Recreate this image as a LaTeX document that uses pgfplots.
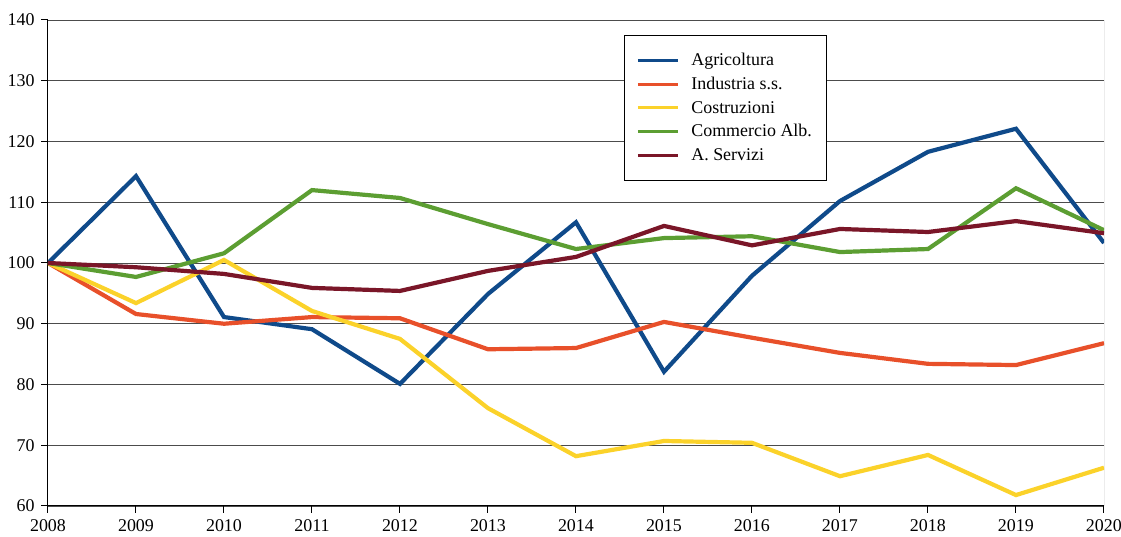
\documentclass[border=0pt]{standalone}
\usepackage{pgfplots}
\pgfplotsset{compat=1.18}
\usepackage{fontspec}
\setmainfont{Liberation Serif}
\definecolor{cAgr}{HTML}{0F4A8A}
\definecolor{cInd}{HTML}{E8502A}
\definecolor{cCos}{HTML}{FBD22A}
\definecolor{cCom}{HTML}{5C9E32}
\definecolor{cSer}{HTML}{7A1628}
\begin{document}
\begin{tikzpicture}[x=1bp,y=1bp]
\begin{axis}[
  width=1056bp, height=486bp, scale only axis,
  xmin=2008, xmax=2020, ymin=60, ymax=140,
  xtick={2008,...,2020}, ytick={60,70,...,140},
  xticklabel style={/pgf/number format/1000 sep={}, yshift=-3bp},
  yticklabel style={xshift=-3bp},
  /pgf/number format/assume math mode=true,
  tick label style={font=\fontsize{18}{20}\selectfont},
  axis x line*=bottom, axis y line*=left,
  axis line style={black, line width=1bp, -},
  tick style={black, line width=1bp},
  tick align=outside, major tick length=7bp,
  ymajorgrids, grid style={black!70, line width=0.8bp},
  legend style={at={(0.5455,0.969)}, anchor=north west, draw=black, line width=0.6bp,
    font=\fontsize{18}{20}\selectfont, row sep=6bp, inner xsep=12bp, inner ysep=16bp,
    /tikz/every odd column/.append style={column sep=10bp}},
  legend cell align=left,
  legend image code/.code={\draw[#1, line width=3bp] (0bp,0bp) -- (40bp,0bp);},
  every axis plot/.append style={line width=4.2bp},
]
\addplot[cAgr] coordinates {(2008,100)(2009,114.3)(2010,91.1)(2011,89.1)(2012,80.1)(2013,94.9)(2014,106.7)(2015,82.1)(2016,97.9)(2017,110.2)(2018,118.3)(2019,122.1)(2020,103.3)};
\addlegendentry{Agricoltura}
\addplot[cInd] coordinates {(2008,100)(2009,91.6)(2010,90.0)(2011,91.1)(2012,90.9)(2013,85.8)(2014,86.0)(2015,90.3)(2016,87.7)(2017,85.2)(2018,83.4)(2019,83.2)(2020,86.8)};
\addlegendentry{Industria s.s.}
\addplot[cCos] coordinates {(2008,100)(2009,93.4)(2010,100.5)(2011,92.1)(2012,87.5)(2013,76.1)(2014,68.2)(2015,70.7)(2016,70.4)(2017,64.9)(2018,68.4)(2019,61.8)(2020,66.3)};
\addlegendentry{Costruzioni}
\addplot[cCom] coordinates {(2008,100)(2009,97.7)(2010,101.6)(2011,112.0)(2012,110.7)(2013,106.4)(2014,102.3)(2015,104.1)(2016,104.4)(2017,101.8)(2018,102.3)(2019,112.3)(2020,105.4)};
\addlegendentry{Commercio Alb.}
\addplot[cSer] coordinates {(2008,100)(2009,99.3)(2010,98.2)(2011,95.9)(2012,95.4)(2013,98.7)(2014,101.0)(2015,106.1)(2016,102.9)(2017,105.6)(2018,105.1)(2019,106.9)(2020,104.9)};
\addlegendentry{A. Servizi}
\draw[black!60, line width=1bp] (rel axis cs:1,0) -- (rel axis cs:1,1);
\end{axis}
\pgfresetboundingbox
\path ([shift={(-48bp,-31bp)}]current axis.south west) rectangle ([shift={(17bp,20bp)}]current axis.north east);
\end{tikzpicture}
\end{document}
